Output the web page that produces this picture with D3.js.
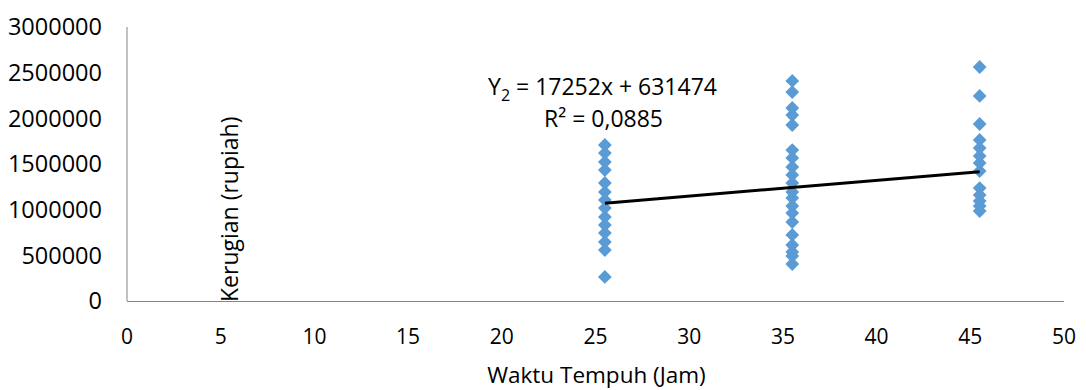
<!DOCTYPE html>
<html>
<head>
<meta charset="utf-8">
<script src="https://cdn.jsdelivr.net/npm/d3@7"></script>
<style>
  body { margin: 0; background: #fff; }
  text { font-family: "Open Sans", sans-serif; fill: #000; }
</style>
</head>
<body>
<div id="chart"></div>
<script>
// Data
var xTicks = [0, 5, 10, 15, 20, 25, 30, 35, 40, 45, 50];
var yTicks = [0, 500000, 1000000, 1500000, 2000000, 2500000, 3000000];

var x25 = 25.5;
var y25 = [1708000, 1620000, 1522000, 1434000, 1292000, 1193000, 1106000, 1018000,
           920000, 832000, 745000, 646000, 558000, 263000];

var x35 = 35.5;
var y35 = [2409000, 2288000, 2113000, 2036000, 1927000, 1653000, 1566000, 1467000,
           1380000, 1292000, 1193000, 1128000, 1040000, 963000, 865000, 723000,
           613000, 537000, 493000, 405000];

var x45 = 45.5;
var y45 = [2562000, 2245000, 1938000, 1763000, 1675000, 1588000, 1511000, 1423000,
           1237000, 1160000, 1095000, 1040000, 985000];

var slope = 17252;
var intercept = 631474;

var points = []
    .concat(y25.map(d => ({x: x25, y: d})))
    .concat(y35.map(d => ({x: x35, y: d})))
    .concat(y45.map(d => ({x: x45, y: d})));

// SVG dimensions
var svgWidth = 1086;
var svgHeight = 390;

var margin = { top: 27, right: 22, bottom: 89, left: 127 };
var width = svgWidth - margin.left - margin.right;
var height = svgHeight - margin.top - margin.bottom;

var svg = d3.select("#chart")
  .append("svg")
  .attr("width", svgWidth)
  .attr("height", svgHeight);

var chartGroup = svg.append("g")
  .attr("transform", `translate(${margin.left}, ${margin.top})`);

// Scales
var xScale = d3.scaleLinear().domain([0, 50]).range([0, width]);
var yScale = d3.scaleLinear().domain([0, 3000000]).range([height, 0]);

// Axis lines
chartGroup.append("line")
  .attr("x1", 0).attr("x2", 0)
  .attr("y1", yScale(3000000)).attr("y2", yScale(0))
  .attr("stroke", "#868686").attr("stroke-width", 1);

chartGroup.append("line")
  .attr("x1", xScale(0)).attr("x2", xScale(50))
  .attr("y1", yScale(0) + 0.5).attr("y2", yScale(0) + 0.5)
  .attr("stroke", "#868686").attr("stroke-width", 1);

// Tick labels
chartGroup.selectAll(".ytick")
  .data(yTicks)
  .enter()
  .append("text")
  .attr("x", -25)
  .attr("y", d => yScale(d))
  .attr("dy", "0.36em")
  .attr("text-anchor", "end")
  .style("font-size", "23.5px")
  .text(d => d);

chartGroup.selectAll(".xtick")
  .data(xTicks)
  .enter()
  .append("text")
  .attr("x", d => xScale(d))
  .attr("y", height + 43)
  .attr("text-anchor", "middle")
  .style("font-size", "21px")
  .text(d => d);

// Axis titles
chartGroup.append("text")
  .attr("x", xScale(25) + 1)
  .attr("y", height + 82)
  .attr("text-anchor", "middle")
  .style("font-size", "22.5px")
  .text("Waktu Tempuh (Jam)");

chartGroup.append("text")
  .attr("transform", `translate(${xScale(5) + 17}, ${height + 1}) rotate(-90)`)
  .attr("text-anchor", "start")
  .style("font-size", "23px")
  .text("Kerugian (rupiah)");

// Scatter points (diamonds)
var diamond = d3.symbol().type(d3.symbolSquare).size(95);
chartGroup.selectAll(".pt")
  .data(points)
  .enter()
  .append("path")
  .attr("d", diamond)
  .attr("transform", d => `translate(${xScale(d.x)}, ${yScale(d.y)}) rotate(45)`)
  .attr("fill", "#5B9BD5");

// Trend line
var trendX = [x25, x45];
chartGroup.append("line")
  .attr("x1", xScale(trendX[0]))
  .attr("y1", yScale(slope * trendX[0] + intercept))
  .attr("x2", xScale(trendX[1]))
  .attr("y2", yScale(slope * trendX[1] + intercept))
  .attr("stroke", "#000")
  .attr("stroke-width", 3);

// Equation label
var eq = chartGroup.append("text")
  .attr("x", xScale(25) + 7)
  .attr("y", 68)
  .attr("text-anchor", "middle")
  .style("font-size", "23px");
eq.append("tspan").text("Y");
eq.append("tspan").attr("dy", 6).style("font-size", "16px").text("2");
eq.append("tspan").attr("dy", -6).text(" = 17252x + 631474");

chartGroup.append("text")
  .attr("x", xScale(25) + 8)
  .attr("y", 100)
  .attr("text-anchor", "middle")
  .style("font-size", "23px")
  .text("R² = 0,0885");
</script>
</body>
</html>
